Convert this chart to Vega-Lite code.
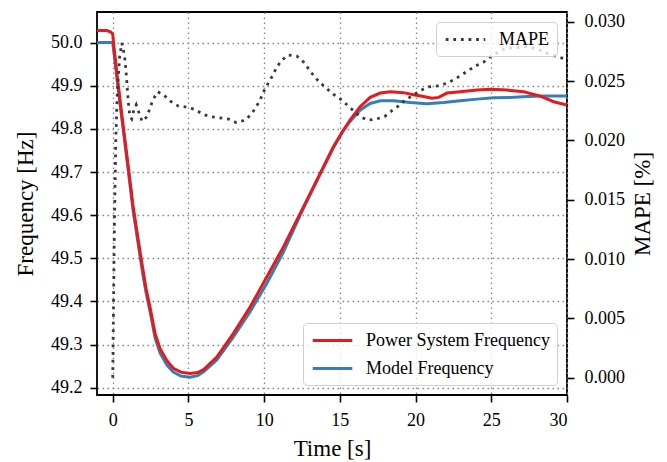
{
  "$schema": "https://vega.github.io/schema/vega-lite/v6.json",
  "autosize": {"type": "none"},
  "padding": {"left": 97, "top": 12, "right": 100, "bottom": 67},
  "width": 470,
  "height": 383,
  "background": "white",
  "datasets": {
    "freq": [
      {"t": -1.04, "s": "Model Frequency", "f": 50.0},
      {"t": 0.0, "s": "Model Frequency", "f": 50.0},
      {"t": 0.3, "s": "Model Frequency", "f": 49.91},
      {"t": 0.61, "s": "Model Frequency", "f": 49.821},
      {"t": 1.0, "s": "Model Frequency", "f": 49.71},
      {"t": 1.34, "s": "Model Frequency", "f": 49.612},
      {"t": 1.65, "s": "Model Frequency", "f": 49.54},
      {"t": 1.94, "s": "Model Frequency", "f": 49.473},
      {"t": 2.2, "s": "Model Frequency", "f": 49.42},
      {"t": 2.47, "s": "Model Frequency", "f": 49.375},
      {"t": 2.8, "s": "Model Frequency", "f": 49.315},
      {"t": 3.13, "s": "Model Frequency", "f": 49.28},
      {"t": 3.59, "s": "Model Frequency", "f": 49.252},
      {"t": 4.0, "s": "Model Frequency", "f": 49.236},
      {"t": 4.5, "s": "Model Frequency", "f": 49.227},
      {"t": 5.1, "s": "Model Frequency", "f": 49.224},
      {"t": 5.6, "s": "Model Frequency", "f": 49.228},
      {"t": 6.0, "s": "Model Frequency", "f": 49.237},
      {"t": 6.87, "s": "Model Frequency", "f": 49.264},
      {"t": 7.97, "s": "Model Frequency", "f": 49.318},
      {"t": 9.07, "s": "Model Frequency", "f": 49.376},
      {"t": 10.18, "s": "Model Frequency", "f": 49.442},
      {"t": 11.28, "s": "Model Frequency", "f": 49.515},
      {"t": 12.38, "s": "Model Frequency", "f": 49.6},
      {"t": 13.48, "s": "Model Frequency", "f": 49.68},
      {"t": 14.58, "s": "Model Frequency", "f": 49.757},
      {"t": 15.2, "s": "Model Frequency", "f": 49.795},
      {"t": 15.68, "s": "Model Frequency", "f": 49.818},
      {"t": 16.35, "s": "Model Frequency", "f": 49.844},
      {"t": 17.0, "s": "Model Frequency", "f": 49.859},
      {"t": 17.67, "s": "Model Frequency", "f": 49.865},
      {"t": 18.55, "s": "Model Frequency", "f": 49.865},
      {"t": 19.65, "s": "Model Frequency", "f": 49.861},
      {"t": 20.75, "s": "Model Frequency", "f": 49.858},
      {"t": 21.85, "s": "Model Frequency", "f": 49.861},
      {"t": 22.95, "s": "Model Frequency", "f": 49.865},
      {"t": 24.06, "s": "Model Frequency", "f": 49.869},
      {"t": 25.16, "s": "Model Frequency", "f": 49.872},
      {"t": 26.26, "s": "Model Frequency", "f": 49.873},
      {"t": 27.36, "s": "Model Frequency", "f": 49.875},
      {"t": 28.46, "s": "Model Frequency", "f": 49.876},
      {"t": 30.0, "s": "Model Frequency", "f": 49.876},
      {"t": -1.04, "s": "Power System Frequency", "f": 50.028},
      {"t": -0.4, "s": "Power System Frequency", "f": 50.028},
      {"t": -0.15, "s": "Power System Frequency", "f": 50.025},
      {"t": 0.0, "s": "Power System Frequency", "f": 50.02},
      {"t": 0.05, "s": "Power System Frequency", "f": 50.0},
      {"t": 0.3, "s": "Power System Frequency", "f": 49.92},
      {"t": 0.61, "s": "Power System Frequency", "f": 49.83},
      {"t": 1.0, "s": "Power System Frequency", "f": 49.72},
      {"t": 1.34, "s": "Power System Frequency", "f": 49.622},
      {"t": 1.65, "s": "Power System Frequency", "f": 49.55},
      {"t": 1.94, "s": "Power System Frequency", "f": 49.485},
      {"t": 2.2, "s": "Power System Frequency", "f": 49.43},
      {"t": 2.47, "s": "Power System Frequency", "f": 49.385},
      {"t": 2.8, "s": "Power System Frequency", "f": 49.325},
      {"t": 3.13, "s": "Power System Frequency", "f": 49.29},
      {"t": 3.59, "s": "Power System Frequency", "f": 49.262},
      {"t": 4.0, "s": "Power System Frequency", "f": 49.245},
      {"t": 4.5, "s": "Power System Frequency", "f": 49.236},
      {"t": 5.1, "s": "Power System Frequency", "f": 49.233},
      {"t": 5.6, "s": "Power System Frequency", "f": 49.235},
      {"t": 6.0, "s": "Power System Frequency", "f": 49.242},
      {"t": 6.87, "s": "Power System Frequency", "f": 49.271},
      {"t": 7.97, "s": "Power System Frequency", "f": 49.326},
      {"t": 9.07, "s": "Power System Frequency", "f": 49.387},
      {"t": 10.18, "s": "Power System Frequency", "f": 49.457},
      {"t": 11.28, "s": "Power System Frequency", "f": 49.527},
      {"t": 12.38, "s": "Power System Frequency", "f": 49.604},
      {"t": 13.48, "s": "Power System Frequency", "f": 49.681},
      {"t": 14.58, "s": "Power System Frequency", "f": 49.759},
      {"t": 15.2, "s": "Power System Frequency", "f": 49.795},
      {"t": 15.68, "s": "Power System Frequency", "f": 49.821},
      {"t": 16.35, "s": "Power System Frequency", "f": 49.852},
      {"t": 16.79, "s": "Power System Frequency", "f": 49.866},
      {"t": 17.0, "s": "Power System Frequency", "f": 49.873},
      {"t": 17.67, "s": "Power System Frequency", "f": 49.883},
      {"t": 18.33, "s": "Power System Frequency", "f": 49.886},
      {"t": 19.2, "s": "Power System Frequency", "f": 49.884},
      {"t": 19.87, "s": "Power System Frequency", "f": 49.879},
      {"t": 20.53, "s": "Power System Frequency", "f": 49.875},
      {"t": 21.08, "s": "Power System Frequency", "f": 49.871},
      {"t": 21.52, "s": "Power System Frequency", "f": 49.873},
      {"t": 22.07, "s": "Power System Frequency", "f": 49.883},
      {"t": 22.95, "s": "Power System Frequency", "f": 49.886},
      {"t": 24.06, "s": "Power System Frequency", "f": 49.89},
      {"t": 24.94, "s": "Power System Frequency", "f": 49.892},
      {"t": 26.04, "s": "Power System Frequency", "f": 49.89},
      {"t": 27.14, "s": "Power System Frequency", "f": 49.886},
      {"t": 28.24, "s": "Power System Frequency", "f": 49.876},
      {"t": 29.12, "s": "Power System Frequency", "f": 49.863},
      {"t": 30.0, "s": "Power System Frequency", "f": 49.855}
    ],
    "mape": [
      {"t": 0.0, "m": 0.0, "k": "MAPE"},
      {"t": 0.1, "m": 0.012, "k": "MAPE"},
      {"t": 0.2, "m": 0.02, "k": "MAPE"},
      {"t": 0.3, "m": 0.024, "k": "MAPE"},
      {"t": 0.45, "m": 0.027, "k": "MAPE"},
      {"t": 0.6, "m": 0.0282, "k": "MAPE"},
      {"t": 0.77, "m": 0.0272, "k": "MAPE"},
      {"t": 0.88, "m": 0.0258, "k": "MAPE"},
      {"t": 0.97, "m": 0.0242, "k": "MAPE"},
      {"t": 1.05, "m": 0.0229, "k": "MAPE"},
      {"t": 1.14, "m": 0.022, "k": "MAPE"},
      {"t": 1.25, "m": 0.0218, "k": "MAPE"},
      {"t": 1.4, "m": 0.0226, "k": "MAPE"},
      {"t": 1.55, "m": 0.023, "k": "MAPE"},
      {"t": 1.74, "m": 0.0223, "k": "MAPE"},
      {"t": 1.94, "m": 0.0216, "k": "MAPE"},
      {"t": 2.27, "m": 0.022, "k": "MAPE"},
      {"t": 2.47, "m": 0.0228, "k": "MAPE"},
      {"t": 2.69, "m": 0.0235, "k": "MAPE"},
      {"t": 2.97, "m": 0.0241, "k": "MAPE"},
      {"t": 3.39, "m": 0.0238, "k": "MAPE"},
      {"t": 3.81, "m": 0.0233, "k": "MAPE"},
      {"t": 4.32, "m": 0.0229, "k": "MAPE"},
      {"t": 4.89, "m": 0.0228, "k": "MAPE"},
      {"t": 5.44, "m": 0.0226, "k": "MAPE"},
      {"t": 5.95, "m": 0.0222, "k": "MAPE"},
      {"t": 6.5, "m": 0.022, "k": "MAPE"},
      {"t": 7.05, "m": 0.0219, "k": "MAPE"},
      {"t": 7.64, "m": 0.0218, "k": "MAPE"},
      {"t": 8.15, "m": 0.0215, "k": "MAPE"},
      {"t": 8.74, "m": 0.0217, "k": "MAPE"},
      {"t": 9.14, "m": 0.0222, "k": "MAPE"},
      {"t": 9.47, "m": 0.0228, "k": "MAPE"},
      {"t": 9.76, "m": 0.0235, "k": "MAPE"},
      {"t": 10.0, "m": 0.0242, "k": "MAPE"},
      {"t": 10.26, "m": 0.0248, "k": "MAPE"},
      {"t": 10.53, "m": 0.0254, "k": "MAPE"},
      {"t": 10.81, "m": 0.0261, "k": "MAPE"},
      {"t": 11.12, "m": 0.0267, "k": "MAPE"},
      {"t": 11.59, "m": 0.0272, "k": "MAPE"},
      {"t": 12.16, "m": 0.0271, "k": "MAPE"},
      {"t": 12.6, "m": 0.0266, "k": "MAPE"},
      {"t": 12.95, "m": 0.026, "k": "MAPE"},
      {"t": 13.3, "m": 0.0254, "k": "MAPE"},
      {"t": 13.66, "m": 0.0249, "k": "MAPE"},
      {"t": 14.1, "m": 0.0244, "k": "MAPE"},
      {"t": 14.56, "m": 0.0239, "k": "MAPE"},
      {"t": 15.02, "m": 0.0235, "k": "MAPE"},
      {"t": 15.47, "m": 0.023, "k": "MAPE"},
      {"t": 15.9, "m": 0.0225, "k": "MAPE"},
      {"t": 16.35, "m": 0.022, "k": "MAPE"},
      {"t": 16.85, "m": 0.0217, "k": "MAPE"},
      {"t": 17.4, "m": 0.0218, "k": "MAPE"},
      {"t": 17.95, "m": 0.022, "k": "MAPE"},
      {"t": 18.44, "m": 0.0225, "k": "MAPE"},
      {"t": 18.88, "m": 0.0229, "k": "MAPE"},
      {"t": 19.32, "m": 0.0234, "k": "MAPE"},
      {"t": 19.83, "m": 0.0238, "k": "MAPE"},
      {"t": 20.31, "m": 0.0242, "k": "MAPE"},
      {"t": 20.86, "m": 0.0245, "k": "MAPE"},
      {"t": 21.45, "m": 0.0246, "k": "MAPE"},
      {"t": 22.03, "m": 0.0248, "k": "MAPE"},
      {"t": 22.51, "m": 0.0251, "k": "MAPE"},
      {"t": 23.02, "m": 0.0255, "k": "MAPE"},
      {"t": 23.5, "m": 0.0259, "k": "MAPE"},
      {"t": 24.0, "m": 0.0263, "k": "MAPE"},
      {"t": 24.5, "m": 0.0266, "k": "MAPE"},
      {"t": 24.98, "m": 0.0271, "k": "MAPE"},
      {"t": 25.45, "m": 0.0274, "k": "MAPE"},
      {"t": 25.97, "m": 0.0278, "k": "MAPE"},
      {"t": 26.59, "m": 0.0278, "k": "MAPE"},
      {"t": 27.14, "m": 0.0279, "k": "MAPE"},
      {"t": 27.69, "m": 0.0278, "k": "MAPE"},
      {"t": 28.24, "m": 0.0276, "k": "MAPE"},
      {"t": 28.75, "m": 0.0273, "k": "MAPE"},
      {"t": 29.23, "m": 0.0271, "k": "MAPE"},
      {"t": 29.78, "m": 0.0269, "k": "MAPE"},
      {"t": 30.0, "m": 0.0268, "k": "MAPE"}
    ]
  },
  "layer": [
    {
      "data": {"name": "freq"},
      "mark": {"type": "line", "strokeWidth": 3, "clip": true},
      "encoding": {
        "x": {
          "field": "t", "type": "quantitative",
          "scale": {"domain": [-1.04, 30], "nice": false, "zero": false},
          "axis": {"title": "Time [s]", "values": [0, 5, 10, 15, 20, 25, 30], "format": "d", "grid": true, "labelPadding": 9, "titlePadding": 8,
            "labelFont": "Liberation Serif", "labelFontSize": 18, "titleFont": "Liberation Serif", "titleFontSize": 23}
        },
        "y": {
          "field": "f", "type": "quantitative",
          "scale": {"domain": [49.183, 50.071], "nice": false, "zero": false},
          "axis": {"title": "Frequency [Hz]", "values": [49.2, 49.3, 49.4, 49.5, 49.6, 49.7, 49.8, 49.9, 50.0], "format": ".1f", "grid": true, "labelPadding": 8, "titlePadding": 13,
            "labelFont": "Liberation Serif", "labelFontSize": 18, "titleFont": "Liberation Serif", "titleFontSize": 23}
        },
        "color": {
          "field": "s", "type": "nominal",
          "scale": {"domain": ["Power System Frequency", "Model Frequency"], "range": ["#e41a1c", "#377eb8"]},
          "legend": {"orient": "bottom-right", "title": null, "offset": 10}
        }
      }
    },
    {
      "data": {"name": "mape"},
      "mark": {"type": "line", "strokeWidth": 2.8, "color": "#3a3a3a", "clip": true},
      "encoding": {
        "x": {"field": "t", "type": "quantitative"},
        "y": {
          "field": "m", "type": "quantitative",
          "scale": {"domain": [-0.00146, 0.03082], "nice": false, "zero": false},
          "axis": {"orient": "right", "title": "MAPE [%]", "values": [0, 0.005, 0.01, 0.015, 0.02, 0.025, 0.03], "format": ".3f", "grid": false, "labelPadding": 10, "titlePadding": 30, "titleAngle": 270,
            "labelFont": "Liberation Serif", "labelFontSize": 18, "titleFont": "Liberation Serif", "titleFontSize": 23}
        },
        "strokeDash": {
          "field": "k", "type": "nominal",
          "scale": {"domain": ["MAPE"], "range": [[2.8, 4.8]]},
          "legend": {"orient": "top-right", "title": null, "offset": 10, "symbolStrokeColor": "#3a3a3a", "symbolStrokeWidth": 2.8}
        }
      }
    }
  ],
  "resolve": {"scale": {"y": "independent"}},
  "config": {
    "font": "Liberation Serif",
    "view": {"stroke": "black", "strokeWidth": 1.8},
    "axis": {
      "domain": false,
      "labelFont": "Liberation Serif", "labelFontSize": 18, "labelColor": "black",
      "titleFont": "Liberation Serif", "titleFontSize": 23, "titleFontWeight": "normal", "titleColor": "black",
      "tickColor": "black", "tickWidth": 1.6, "tickSize": 7,
      "gridColor": "#888888", "gridDash": [1.6, 3.4], "gridWidth": 1.3
    },
    "legend": {
      "labelFont": "Liberation Serif", "labelFontSize": 18, "labelColor": "black", "labelLimit": 400,
      "symbolType": "M-2.2,0H2.2", "symbolSize": 324, "symbolStrokeWidth": 3, "symbolFillColor": "transparent",
      "symbolOffset": 12, "labelOffset": 23,
      "padding": 7, "rowPadding": 8,
      "cornerRadius": 4, "strokeColor": "#d0d0d0", "fillColor": "rgba(255,255,255,0.8)"
    }
  }
}
